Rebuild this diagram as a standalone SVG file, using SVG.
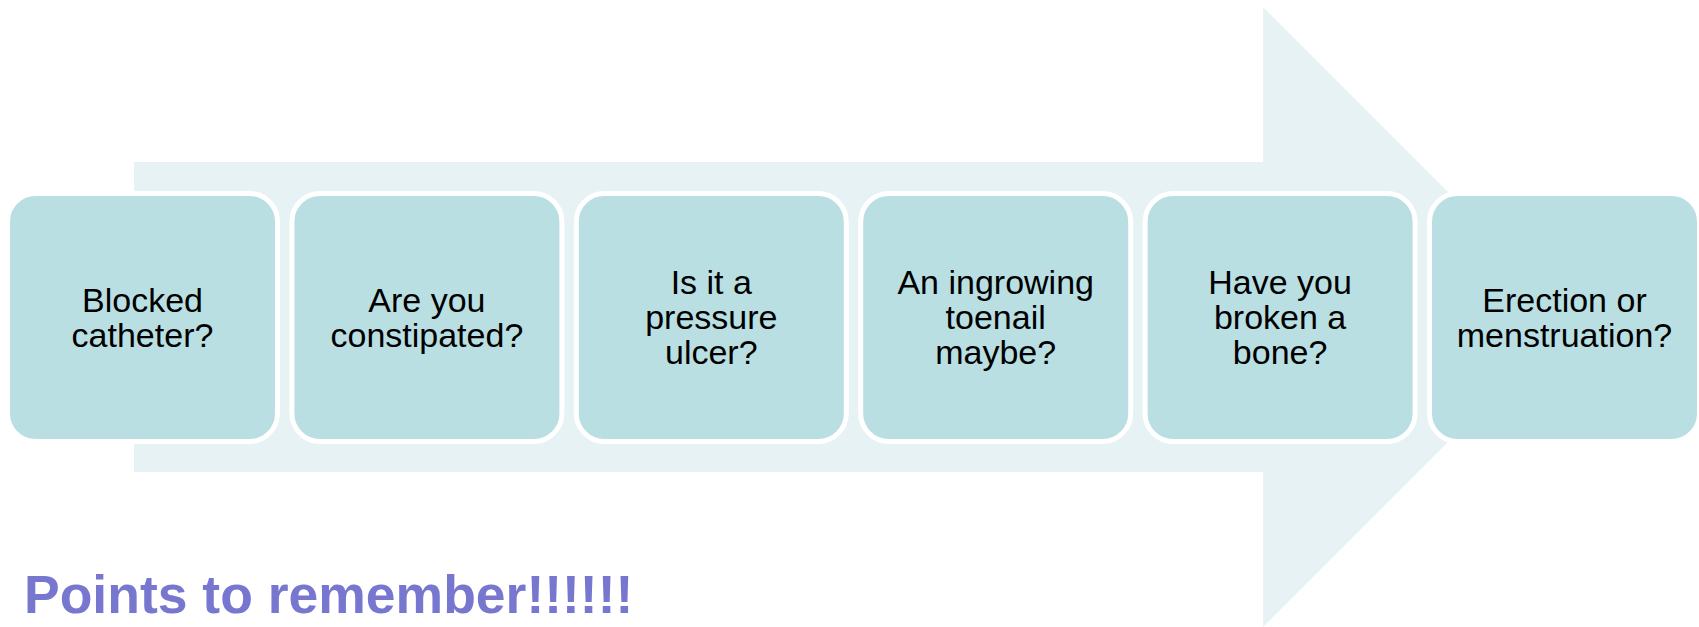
<svg xmlns="http://www.w3.org/2000/svg" width="1699" height="627" viewBox="0 0 1699 627">
<style>
.box{fill:#B9DFE3;stroke:#FFFFFF;stroke-width:5}
.t{font-family:"Liberation Sans",Arial,sans-serif;font-size:34px;fill:#000000;text-anchor:middle}
.title{font-family:"Liberation Sans",Arial,sans-serif;font-size:53.5px;font-weight:bold;fill:#7777CF}
</style>
<rect width="1699" height="627" fill="#FFFFFF"/>
<g id="arrow">
<polygon points="134,162 1263,162 1263,7 1573,317 1263,627 1263,472 134,472" fill="#E6F2F4"/>
</g>
<g id="connectors"></g>
<g id="n1">
<rect class="box" x="7.5" y="193.5" width="270" height="248" rx="28"/>
<text class="t" x="142.5" y="311.5">Blocked</text>
<text class="t" x="142.5" y="346.5">catheter?</text>
</g>
<g id="n2">
<rect class="box" x="291.9" y="193.5" width="270" height="248" rx="28"/>
<text class="t" x="426.9" y="311.5">Are you</text>
<text class="t" x="426.9" y="346.5">constipated?</text>
</g>
<g id="n3">
<rect class="box" x="576.3" y="193.5" width="270" height="248" rx="28"/>
<text class="t" x="711.3" y="294">Is it a</text>
<text class="t" x="711.3" y="329">pressure</text>
<text class="t" x="711.3" y="364">ulcer?</text>
</g>
<g id="n4">
<rect class="box" x="860.7" y="193.5" width="270" height="248" rx="28"/>
<text class="t" x="995.7" y="294">An ingrowing</text>
<text class="t" x="995.7" y="329">toenail</text>
<text class="t" x="995.7" y="364">maybe?</text>
</g>
<g id="n5">
<rect class="box" x="1145.1" y="193.5" width="270" height="248" rx="28"/>
<text class="t" x="1280.1" y="294">Have you</text>
<text class="t" x="1280.1" y="329">broken a</text>
<text class="t" x="1280.1" y="364">bone?</text>
</g>
<g id="n6">
<rect class="box" x="1429.5" y="193.5" width="270" height="248" rx="28"/>
<text class="t" x="1564.5" y="311.5">Erection or</text>
<text class="t" x="1564.5" y="346.5">menstruation?</text>
</g>
<g id="title">
<text class="title" x="24" y="613">Points to remember!!!!!!</text>
</g>
</svg>
